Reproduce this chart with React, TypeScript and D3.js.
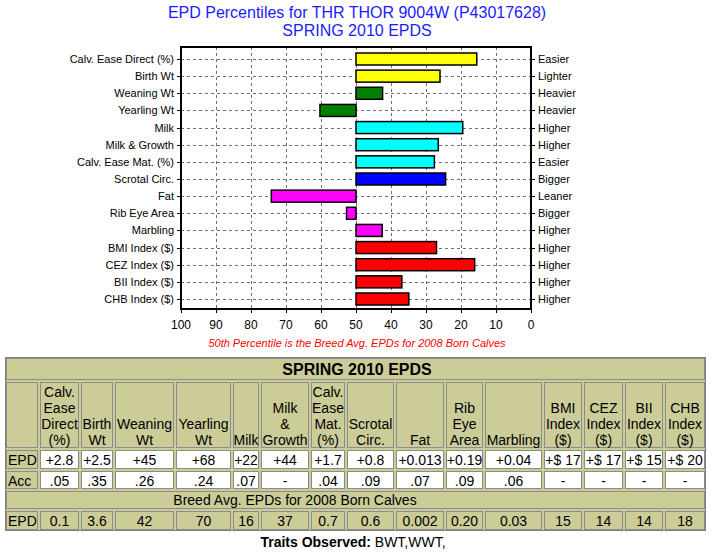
import * as d3 from 'd3';

const traits = [
  'Calv. Ease Direct (%)', 'Birth Wt', 'Weaning Wt', 'Yearling Wt', 'Milk', 'Milk & Growth',
  'Calv. Ease Mat. (%)', 'Scrotal Circ.', 'Fat', 'Rib Eye Area', 'Marbling',
  'BMI Index ($)', 'CEZ Index ($)', 'BII Index ($)', 'CHB Index ($)',
];
const directions = [
  'Easier', 'Lighter', 'Heavier', 'Heavier', 'Higher', 'Higher', 'Easier', 'Bigger',
  'Leaner', 'Bigger', 'Higher', 'Higher', 'Higher', 'Higher', 'Higher',
];
const percentiles = [15.5, 26, 42.4, 60.3, 19.5, 26.5, 27.6, 24.4, 74.2, 52.7, 42.5, 27, 16.1, 36.9, 34.9];
const barColors = [
  '#ffff00', '#ffff00', '#008000', '#008000', '#00ffff', '#00ffff', '#00ffff', '#0000ff',
  '#ff00ff', '#ff00ff', '#ff00ff', '#ff0000', '#ff0000', '#ff0000', '#ff0000',
];
const xTicks = [100, 90, 80, 70, 60, 50, 40, 30, 20, 10, 0];

const headers = [
  [], ['Calv.', 'Ease', 'Direct', '(%)'], ['Birth', 'Wt'], ['Weaning', 'Wt'], ['Yearling', 'Wt'],
  ['Milk'], ['Milk', '&', 'Growth'], ['Calv.', 'Ease', 'Mat.', '(%)'], ['Scrotal', 'Circ.'],
  ['Fat'], ['Rib', 'Eye', 'Area'], ['Marbling'], ['BMI', 'Index', '($)'], ['CEZ', 'Index', '($)'],
  ['BII', 'Index', '($)'], ['CHB', 'Index', '($)'],
];
const epdValues = ['+2.8', '+2.5', '+45', '+68', '+22', '+44', '+1.7', '+0.8', '+0.013', '+0.19', '+0.04', '+$ 17', '+$ 17', '+$ 15', '+$ 20'];
const accValues = ['.05', '.35', '.26', '.24', '.07', '-', '.04', '.09', '.07', '.09', '.06', '-', '-', '-', '-'];
const breedValues = ['0.1', '3.6', '42', '70', '16', '37', '0.7', '0.6', '0.002', '0.20', '0.03', '15', '14', '14', '18'];

// table layout (px)
const colEdges = [5, 39, 80, 114, 175, 232, 260, 310, 346, 395, 445, 484, 543, 583, 624, 664, 706];
const rowEdges = [357, 381, 449, 470, 490, 510, 531];

const FONT = '"Liberation Sans", Arial, sans-serif';
const TAN = '#cccc99';
const W = 712, H = 554;

const x = d3.scaleLinear().domain([100, 0]).range([181, 531]);
const y = d3.scalePoint<string>().domain(traits).range([59, 299]);
const plotTop = 47, plotBottom = 309;
const barH = 12;

function Cell({ c0, c1, r, fill }: { c0: number; c1: number; r: number; fill: string }) {
  const x0 = colEdges[c0], x1 = colEdges[c1];
  const y0 = rowEdges[r], y1 = rowEdges[r + 1];
  return (
    <rect x={x0 + 1.5} y={y0 + 1.5} width={x1 - x0 - 3} height={y1 - y0 - 3}
      fill={fill} stroke="#8c8c8c" strokeWidth={1} />
  );
}

export default function App() {
  const mid = (i: number) => (colEdges[i] + colEdges[i + 1]) / 2;
  const last = colEdges.length - 1;
  return (
    <svg width={W} height={H} style={{ position: 'absolute', left: 0, top: 0, background: '#fff' }} fontFamily={FONT}>
      {/* title */}
      <text x={357} y={18} textAnchor="middle" fontSize={16} fill="#1c1cff">EPD Percentiles for THR THOR 9004W (P43017628)</text>
      <text x={357} y={36} textAnchor="middle" fontSize={16} fill="#1c1cff">SPRING 2010 EPDS</text>

      {/* grid */}
      <g stroke="#707070" strokeWidth={1} strokeDasharray="3,3">
        {xTicks.filter(t => t > 0 && t < 100).map(t => (
          <line key={t} x1={Math.round(x(t)) + 0.5} x2={Math.round(x(t)) + 0.5} y1={plotTop} y2={plotBottom} />
        ))}
        {traits.map(t => (
          <line key={t} x1={x(100)} x2={x(0)} y1={Math.round(y(t)!) + 0.5} y2={Math.round(y(t)!) + 0.5} />
        ))}
      </g>

      {/* ticks */}
      <g stroke="#000" strokeWidth={1}>
        {traits.map(t => (
          <g key={t}>
            <line x1={x(100) - 4} x2={x(100)} y1={Math.round(y(t)!) + 0.5} y2={Math.round(y(t)!) + 0.5} />
            <line x1={x(0)} x2={x(0) + 4} y1={Math.round(y(t)!) + 0.5} y2={Math.round(y(t)!) + 0.5} />
          </g>
        ))}
        {xTicks.map(t => (
          <line key={t} x1={Math.round(x(t)) + 0.5} x2={Math.round(x(t)) + 0.5} y1={plotBottom} y2={plotBottom + 4} />
        ))}
      </g>

      {/* bars */}
      {traits.map((t, i) => {
        const a = x(50), b = x(percentiles[i]);
        return (
          <rect key={t} x={Math.min(a, b)} y={y(t)! - barH / 2} width={Math.abs(b - a)} height={barH}
            fill={barColors[i]} stroke="#000" strokeWidth={1.5} />
        );
      })}

      {/* frame */}
      <rect x={x(100)} y={plotTop} width={x(0) - x(100)} height={plotBottom - plotTop} fill="none" stroke="#000" strokeWidth={2} />

      {/* labels */}
      <g fontSize={11} fill="#000">
        {traits.map(t => (
          <text key={t} x={174} y={y(t)! + 4} textAnchor="end">{t}</text>
        ))}
        {traits.map((t, i) => (
          <text key={t} x={538} y={y(t)! + 4}>{directions[i]}</text>
        ))}
      </g>
      <g fontSize={12} fill="#000">
        {xTicks.map(t => (
          <text key={t} x={x(t)} y={329} textAnchor="middle">{t}</text>
        ))}
      </g>
      <text x={357} y={347} textAnchor="middle" fontSize={11} fontStyle="italic" fill="#ff0000">
        50th Percentile is the Breed Avg. EPDs for 2008 Born Calves
      </text>

      {/* table */}
      <rect x={colEdges[0] + 0.5} y={rowEdges[0] + 0.5} width={colEdges[last] - colEdges[0] - 1}
        height={rowEdges[6] - rowEdges[0] - 1} fill={TAN} stroke="#808080" />
      <Cell c0={0} c1={last} r={0} fill={TAN} />
      <text x={357} y={375} textAnchor="middle" fontSize={16} fontWeight="bold">SPRING 2010 EPDS</text>

      {headers.map((lines, i) => (
        <g key={'h' + i}>
          <Cell c0={i} c1={i + 1} r={1} fill={TAN} />
          {lines.map((ln, j) => (
            <text key={j} x={mid(i)} y={445 - (lines.length - 1 - j) * 16} textAnchor="middle" fontSize={14}>{ln}</text>
          ))}
        </g>
      ))}

      {[epdValues, accValues].map((vals, r) => (
        <g key={'r' + r}>
          <Cell c0={0} c1={1} r={2 + r} fill={TAN} />
          <text x={8} y={rowEdges[2 + r] + 16} fontSize={14}>{r === 0 ? 'EPD' : 'Acc'}</text>
          {vals.map((v, i) => (
            <g key={i}>
              <Cell c0={i + 1} c1={i + 2} r={2 + r} fill="#ffffff" />
              <text x={mid(i + 1)} y={rowEdges[2 + r] + 16} textAnchor="middle" fontSize={14}>{v}</text>
            </g>
          ))}
        </g>
      ))}

      <Cell c0={0} c1={last} r={4} fill={TAN} />
      <text x={295} y={505} textAnchor="middle" fontSize={14}>Breed Avg. EPDs for 2008 Born Calves</text>

      <Cell c0={0} c1={1} r={5} fill={TAN} />
      <text x={8} y={526} fontSize={14}>EPD</text>
      {breedValues.map((v, i) => (
        <g key={'b' + i}>
          <Cell c0={i + 1} c1={i + 2} r={5} fill={TAN} />
          <text x={mid(i + 1)} y={526} textAnchor="middle" fontSize={14}>{v}</text>
        </g>
      ))}

      <text x={353} y={547} textAnchor="middle" fontSize={14}>
        <tspan fontWeight="bold">Traits Observed:</tspan> BWT,WWT,
      </text>
    </svg>
  );
}
